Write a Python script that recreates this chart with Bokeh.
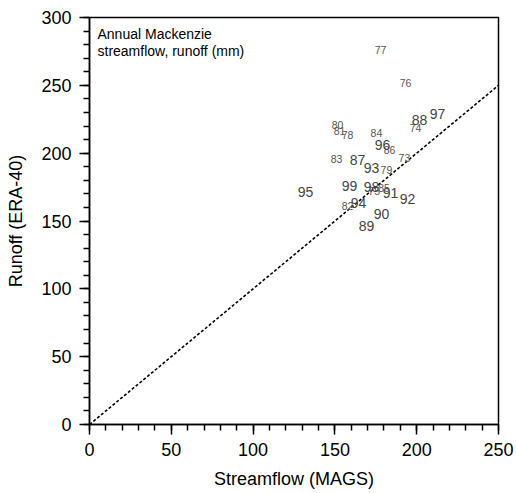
from bokeh.plotting import figure
from bokeh.models import ColumnDataSource, Range1d, Label, FixedTicker, LinearAxis
from bokeh.core.properties import value
from bokeh.embed import file_html
from bokeh.resources import INLINE

# Years (two-digit) with streamflow (MAGS) and runoff (ERA-40), mm
small_years = ["73", "74", "75", "76", "77", "78", "79", "80", "81", "82", "83", "84", "85", "86"]
small_x = [192.5, 199.3, 174.0, 193.2, 177.9, 157.7, 181.5, 151.6, 152.8, 157.7, 151.0, 175.4, 180.0, 183.4]
small_y = [196.8, 218.9, 172.0, 252.0, 276.3, 213.7, 187.9, 221.0, 216.6, 161.4, 196.0, 215.2, 174.0, 202.7]

large_years = ["87", "88", "89", "90", "91", "92", "93", "94", "95", "96", "97", "98", "99"]
large_x = [163.8, 201.7, 169.3, 178.5, 184.0, 194.4, 172.4, 164.4, 132.0, 179.1, 212.7, 172.4, 158.9]
large_y = [195.3, 224.8, 146.6, 155.5, 171.0, 166.5, 189.4, 163.6, 171.7, 206.3, 229.2, 174.7, 176.1]

one_to_one = [0, 250]

x_major = [0, 50, 100, 150, 200, 250]
y_major = [0, 50, 100, 150, 200, 250, 300]
x_minor = list(range(0, 251, 10))
y_minor = list(range(0, 301, 10))

font = "Liberation Sans"

p = figure(width=516, height=493, output_backend="svg", toolbar_location=None,
           x_range=Range1d(0, 250), y_range=Range1d(0, 300),
           x_axis_location=None, y_axis_location=None,
           min_border_left=89, min_border_right=18, min_border_top=17, min_border_bottom=69)

p.background_fill_color = "white"
p.border_fill_color = "white"
p.outline_line_color = "black"
p.outline_line_width = 1.5
p.xgrid.visible = False
p.ygrid.visible = False

xaxis = LinearAxis(ticker=FixedTicker(ticks=x_major, minor_ticks=x_minor),
                   axis_label="Streamflow (MAGS)")
yaxis = LinearAxis(ticker=FixedTicker(ticks=y_major, minor_ticks=y_minor),
                   axis_label="Runoff (ERA-40)")
for ax in (xaxis, yaxis):
    ax.axis_line_color = "black"
    ax.axis_line_width = 1.5
    ax.major_tick_line_width = 1.5
    ax.major_tick_line_color = "black"
    ax.major_tick_out = 10
    ax.major_tick_in = 0
    ax.minor_tick_line_width = 1.5
    ax.minor_tick_line_color = "black"
    ax.minor_tick_out = 6
    ax.minor_tick_in = 0
    ax.major_label_text_font = font
    ax.major_label_text_font_size = "18px"
    ax.major_label_text_color = "black"
    ax.axis_label_text_font = font
    ax.axis_label_text_font_size = "18px"
    ax.axis_label_text_font_style = "normal"
    ax.axis_label_text_color = "black"
    ax.major_label_standoff = 8
xaxis.axis_label_standoff = 10
yaxis.axis_label_standoff = 12
p.add_layout(xaxis, "below")
p.add_layout(yaxis, "left")

p.line(one_to_one, one_to_one, line_color="black", line_width=1.6, line_dash="3 2")

src_s = ColumnDataSource(dict(x=small_x, y=small_y, t=small_years))
src_l = ColumnDataSource(dict(x=large_x, y=large_y, t=large_years))
p.text(x="x", y="y", text="t", source=src_s, text_font=value(font), text_font_size="10.5px",
       text_color="#555555", text_align="center", text_baseline="middle")
p.text(x="x", y="y", text="t", source=src_l, text_font=value(font), text_font_size="14px",
       text_color="#444444", text_align="center", text_baseline="middle")

title = Label(x=8, y=300, x_units="screen", y_units="data", y_offset=-8,
              text="Annual Mackenzie\nstreamflow, runoff (mm)", text_font=font,
              text_font_size="14px", text_color="black", text_baseline="top", text_align="left",
              text_line_height=1.1)
p.add_layout(title)

open("out.html", "w").write(file_html(p, INLINE))
